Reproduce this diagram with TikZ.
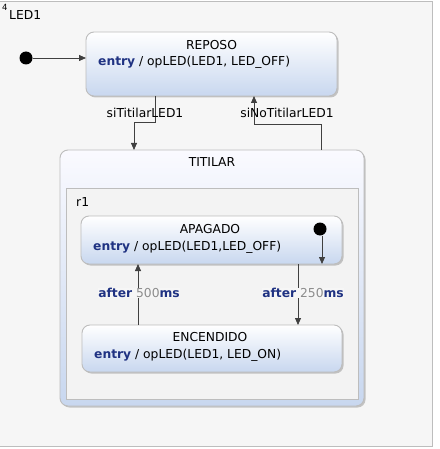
\documentclass[tikz,border=0pt]{standalone}
\usepackage{fontspec}
\setmainfont{DejaVu Sans}
\usetikzlibrary{arrows.meta,shadows}
\definecolor{kw}{HTML}{1F3282}
\definecolor{num}{HTML}{8C8C8C}
\definecolor{stbot}{HTML}{C8D7EF}
\definecolor{frameg}{HTML}{BDBDBD}
\definecolor{bg}{HTML}{F6F6F6}
\definecolor{regbg}{HTML}{F3F3F3}
\definecolor{edge}{HTML}{404040}
\tikzset{
  statebox/.style={draw=frameg, line width=0.9pt, rounded corners=8pt,
    top color=white, bottom color=stbot,
    drop shadow={shadow xshift=1.5pt, shadow yshift=-1.5pt, opacity=0.35, fill=black!60}},
  compbox/.style={draw=frameg, line width=0.9pt, rounded corners=8pt,
    top color=white!98!blue, bottom color=stbot,
    drop shadow={shadow xshift=1.5pt, shadow yshift=-1.5pt, opacity=0.35, fill=black!60}},
  regionbox/.style={draw=frameg, line width=0.8pt, fill=regbg},
  initdot/.style={circle, fill=black, inner sep=0pt, minimum size=13pt},
  trans/.style={draw=edge, line width=0.8pt, -{Triangle[length=7pt,width=6pt]}},
  lbl/.style={font=\fontsize{12.3}{14}\selectfont, inner sep=0pt, anchor=base},
  txt/.style={font=\fontsize{12.3}{14}\selectfont, inner sep=0pt, anchor=base west},
}
\newcommand{\kwd}[1]{\textcolor{kw}{\textbf{#1}}}
\begin{document}
\begin{tikzpicture}[x=1pt,y=-1pt]
\useasboundingbox (0,0) rectangle (439,449);
\fill[white] (0,0) rectangle (439,449);
\fill[bg] (0,1.5) rectangle (432,446);
\draw[frameg, line width=1pt] (0,1.5) -- (432,1.5) -- (432,446) -- (0,446);
\node[inner sep=0pt, anchor=base west, font=\fontsize{8.5}{10}\selectfont] (sup) at (2,11) {4};
\node[txt] (ttl) at (9,20) {LED1};

% REPOSO
\path[statebox] (86,32) rectangle (337,96);
\node[lbl] (repT) at (211.5,49.5) {REPOSO};
\node[txt] (repE) at (98,66) {\kwd{entry} / opLED(LED1, LED\_OFF)};
\coordinate (repL) at (86,58);
\coordinate (repB1) at (155,96);
\coordinate (repB2) at (254,96);
\node[initdot] (init1) at (26,58) {};
\draw[trans] (init1) -- (repL);

% TITILAR
\path[compbox] (60,150) rectangle (364,406);
\node[lbl] (titT) at (212,167) {TITILAR};
\coordinate (titT1) at (134,150);
\coordinate (titT2) at (321,150);
\path[regionbox] (66,188) rectangle (358,399);
\node[txt] (r1) at (76,206) {r1};

\draw[trans] (repB1) -- (155,122) -- (134,122) -- (titT1);
\node[lbl] (l1) at (145,118) {siTitilarLED1};
\draw[trans] (titT2) -- (321,124) -- (254,124) -- (repB2);
\node[lbl] (l2) at (287,118) {siNoTitilarLED1};

% APAGADO
\path[statebox] (81,216) rectangle (342,264);
\node[lbl] (apT) at (210,233.5) {APAGADO};
\node[txt] (apE) at (93,250.5) {\kwd{entry} / opLED(LED1,LED\_OFF)};
\node[initdot] (init2) at (320,229) {};
\coordinate (apB0) at (322,264);
\draw[trans] (init2.south -| apB0) -- (apB0);

% ENCENDIDO
\path[statebox] (82,325) rectangle (342,372);
\node[lbl] (enT) at (210,341.5) {ENCENDIDO};
\node[txt] (enE) at (94,358.5) {\kwd{entry} / opLED(LED1, LED\_ON)};

\coordinate (enTop1) at (138,325);
\coordinate (apB1) at (138,264);
\coordinate (apB2) at (298,264);
\coordinate (enTop2) at (298,325);
\draw[trans] (enTop1) -- (apB1);
\draw[trans] (apB2) -- (enTop2);
\node[lbl, fill=bg, inner sep=0.5pt] (a1) at (139,297.5) {\kwd{after} \textcolor{num}{500}\kwd{ms}};
\node[lbl, fill=bg, inner sep=0.5pt] (a2) at (303,297.5) {\kwd{after} \textcolor{num}{250}\kwd{ms}};
\end{tikzpicture}
\end{document}
